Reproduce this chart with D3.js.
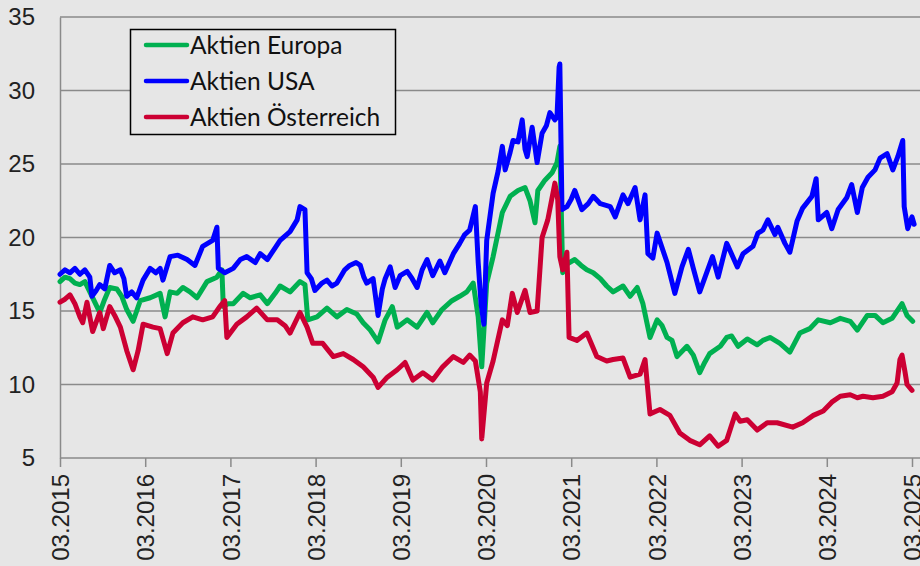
<!DOCTYPE html>
<html><head><meta charset="utf-8">
<script src="https://cdn.jsdelivr.net/npm/d3@7"></script>
<style>html,body{margin:0;padding:0;background:#e6e6e6;}svg{display:block;}</style>
</head><body>
<script>
// months since 03.2015
const tickMonths = [0,12,24,36,48,60,72,84,96,108,120];
const tickLabels = ["03.2015","03.2016","03.2017","03.2018","03.2019","03.2020","03.2021","03.2022","03.2023","03.2024","03.2025"];
const yTicks = [5,10,15,20,25,30,35];
const seriesNames = ["Aktien Europa","Aktien USA","Aktien Österreich"];
const seriesColors = ["#00b050","#0000ff","#cc0033"];

const europaMonths = [0,0.7,1.4,2.1,2.8,3.5,4.2,4.9,5.6,6.3,7.0,8.0,8.7,9.4,10.3,10.8,11.3,12.7,14.1,14.8,15.5,16.5,17.3,18.3,19.3,20.7,22.1,22.8,23.0,23.7,24.4,25.8,26.8,28.2,29.2,30.3,31.0,32.4,33.8,34.5,34.9,36.2,37.6,39.0,40.4,41.8,42.7,43.7,44.8,45.8,46.8,47.5,48.9,50.3,51.7,52.5,53.8,55.2,56.3,57.3,58.2,58.9,59.4,60.1,61.0,62.3,63.4,64.5,65.5,66.2,66.9,67.3,68.3,69.3,70.0,70.4,70.8,71.4,72.5,73.4,74.2,75.1,76.1,77.0,77.9,79.3,80.3,81.3,82.1,83.1,84.1,84.8,85.5,86.2,86.9,88.3,89.2,90.1,90.8,91.5,93.0,93.9,94.6,95.5,96.8,98.2,99.0,100.0,101.4,102.8,104.2,105.6,106.8,108.5,109.9,111.3,112.3,113.7,114.8,115.9,117.2,118.6,119.3,120.1];
const europaValues = [17.0,17.3,17.2,16.9,16.8,17.0,16.3,15.6,14.9,15.8,16.6,16.5,16.0,15.1,14.3,15.0,15.7,15.9,16.2,14.6,16.3,16.2,16.6,16.3,15.9,17.0,17.3,17.8,15.3,15.5,15.5,16.2,15.9,16.1,15.5,16.2,16.7,16.3,17.0,16.8,14.4,14.6,15.2,14.6,15.1,14.8,14.2,13.7,12.9,14.4,15.3,13.9,14.4,13.9,14.9,14.2,15.1,15.7,16.0,16.3,16.9,14.6,11.2,16.9,18.7,21.7,22.8,23.2,23.4,22.5,21.0,23.2,23.9,24.4,25.1,26.2,17.6,18.2,18.5,18.1,17.8,17.6,17.2,16.7,16.3,16.7,16.0,16.6,15.5,13.2,14.4,14.0,13.2,13.0,11.9,12.6,12.0,10.8,11.5,12.1,12.6,13.2,13.3,12.6,13.1,12.7,13.0,13.2,12.8,12.2,13.5,13.8,14.4,14.2,14.5,14.3,13.7,14.7,14.7,14.2,14.5,15.5,14.7,14.3];

const usaMonths = [0,0.7,1.4,2.1,2.8,3.5,4.2,4.5,5.1,5.6,6.3,7.0,7.7,8.5,9.0,9.4,10.1,10.8,11.7,12.7,13.5,14.1,14.5,15.5,16.6,17.9,19.0,20.1,21.5,22.1,22.3,23.2,24.4,25.4,26.3,27.5,28.2,29.2,30.3,31.0,32.4,33.4,33.8,34.5,34.8,35.4,35.9,36.9,37.6,38.3,39.0,40.1,40.8,41.7,42.3,42.8,43.2,44.1,44.8,45.4,45.8,46.5,47.2,47.9,48.9,49.6,50.3,51.0,51.7,52.5,53.5,54.2,55.4,56.3,57.0,57.7,58.5,58.9,59.3,59.7,60.1,61.0,61.7,62.3,62.7,63.4,63.8,64.5,65.1,65.5,65.8,66.5,67.2,67.9,68.5,69.0,69.7,70.0,70.3,70.4,70.7,71.4,72.0,72.5,73.5,74.4,75.1,76.1,77.5,78.2,79.3,80.0,81.0,81.7,82.4,82.8,83.5,84.1,85.5,86.6,87.6,88.5,89.2,90.1,91.9,92.7,93.9,94.1,95.4,96.2,97.6,98.3,99.0,99.7,100.7,101.1,102.1,102.8,103.8,104.6,105.9,106.5,106.8,108.0,108.7,109.6,110.8,111.5,112.3,113.0,113.8,114.8,115.5,116.5,117.3,118.0,118.7,118.9,119.4,120.0,120.3];
const usaValues = [17.5,17.8,17.6,17.9,17.5,17.8,17.3,16.0,16.4,16.8,16.5,18.1,17.6,17.8,17.2,16.0,16.3,15.9,17.1,17.9,17.6,17.9,17.1,18.7,18.8,18.5,18.1,19.4,19.8,20.7,17.9,17.6,17.9,18.5,18.7,18.3,18.9,18.5,19.3,19.8,20.4,21.2,22.1,21.9,17.6,17.2,16.4,16.9,17.1,16.7,16.9,17.8,18.1,18.3,18.1,17.3,16.9,17.2,14.7,16.5,17.2,18.0,16.6,17.4,17.7,17.2,16.6,17.8,18.5,17.4,18.4,17.6,18.9,19.6,20.2,20.5,22.1,18.3,15.5,14.1,19.8,23.0,24.5,26.2,24.6,25.8,26.6,26.5,28.0,26.0,25.5,27.5,25.1,27.1,27.6,28.5,28.0,28.2,31.6,31.8,21.9,22.1,22.6,23.2,21.9,22.3,22.8,22.3,22.1,21.4,22.9,22.3,23.4,21.2,22.9,18.9,18.6,20.3,18.3,16.2,18.0,19.2,17.9,16.3,18.7,17.3,19.6,19.4,18.0,18.9,19.4,20.3,20.5,21.2,20.2,20.7,19.6,19.0,21.1,22.0,22.8,24.0,21.2,21.7,20.6,21.9,22.7,23.6,21.7,23.4,24.1,24.6,25.4,25.7,24.6,25.5,26.6,22.1,20.6,21.4,20.9];

const oesterreichMonths = [0,0.7,1.4,2.1,2.8,3.2,3.8,4.6,5.6,6.1,7.0,7.7,8.5,9.4,10.3,11.0,11.7,12.4,13.1,14.1,15.1,15.9,17.3,18.7,20.1,21.5,22.5,23.2,23.5,24.9,26.3,27.7,29.2,30.6,31.7,32.4,33.8,34.8,35.6,37.0,38.5,39.9,41.3,42.7,44.1,44.8,46.1,47.5,48.6,49.7,51.1,52.5,53.9,55.4,56.8,57.7,58.5,59.2,59.4,60.1,61.0,62.3,63.0,63.7,64.4,65.5,66.2,67.2,67.9,68.7,69.7,70.1,70.4,70.8,71.4,71.7,72.8,74.2,75.6,77.0,77.9,79.3,80.3,81.7,82.4,83.1,84.5,85.9,87.3,88.7,90.1,91.5,92.7,93.9,95.1,95.8,96.8,98.2,99.6,101.0,103.2,104.6,106.1,107.5,108.7,109.9,111.3,112.3,113.1,114.5,115.9,117.2,117.9,118.3,118.6,119.0,119.3,120.0];
const oesterreichValues = [15.6,15.8,16.1,15.5,14.6,14.2,15.6,13.6,14.9,13.8,15.3,14.7,13.9,12.3,11.0,12.3,14.1,14.0,13.9,13.8,12.1,13.5,14.2,14.6,14.4,14.6,15.3,15.7,13.2,14.1,14.6,15.2,14.4,14.4,14.0,13.5,14.9,13.9,12.8,12.8,11.9,12.1,11.7,11.2,10.5,9.8,10.5,11.0,11.5,10.3,10.8,10.3,11.2,11.9,11.5,12.0,11.6,9.5,6.3,10.1,11.6,14.4,14.0,16.2,14.9,16.4,14.9,15.0,20.0,21.2,23.7,22.6,18.7,17.8,19.0,13.2,13.0,13.5,11.9,11.6,11.7,11.8,10.5,10.7,11.7,8.0,8.3,7.9,6.7,6.2,5.9,6.5,5.8,6.2,8.0,7.5,7.6,6.9,7.4,7.4,7.1,7.4,7.9,8.2,8.8,9.2,9.3,9.1,9.2,9.1,9.2,9.5,10.1,11.7,12.0,10.9,10.0,9.6];

const W = 920, H = 566;
const m = {left:60, top:17, bottom:458, right:920};
const svg = d3.select("body").append("svg").attr("width",W).attr("height",H);
svg.append("rect").attr("width",W).attr("height",H).attr("fill","#e6e6e6");

const x = d3.scaleLinear().domain([0,120]).range([60,912]);
const y = d3.scaleLinear().domain([5,35]).range([m.bottom,m.top]);

// gridlines
svg.append("g").selectAll("line").data(yTicks).join("line")
  .attr("x1",m.left).attr("x2",m.right)
  .attr("y1",d=>y(d)).attr("y2",d=>y(d))
  .attr("stroke","#8a8a8a").attr("stroke-width",1.5);

// y axis labels
const yAxis = d3.axisLeft(y).tickValues(yTicks).tickSize(0).tickPadding(25).tickFormat(d3.format("d"));
const gy = svg.append("g").attr("transform",`translate(${m.left},0)`).call(yAxis);
gy.select(".domain").attr("stroke","#8a8a8a").attr("stroke-width",1.5);
gy.selectAll("text").attr("font-family","Liberation Sans, Arial, sans-serif").attr("font-size",24).attr("fill","#222");

// x axis
const xAxis = d3.axisBottom(x).tickValues(tickMonths).tickSize(9).tickPadding(0).tickFormat((d,i)=>tickLabels[i]);
const gx = svg.append("g").attr("transform",`translate(0,${m.bottom})`).call(xAxis);
gx.select(".domain").remove();
gx.selectAll(".tick line").attr("stroke","#8a8a8a").attr("stroke-width",1.5);
gx.selectAll("text").attr("font-family","Liberation Sans, Arial, sans-serif").attr("font-size",24).attr("fill","#222")
  .attr("text-anchor","end").attr("transform","translate(0,16) rotate(-90)").attr("x",0).attr("y",0).attr("dy","0.36em");

const seriesData = [
  europaMonths.map((mm,i)=>[mm,europaValues[i]]),
  usaMonths.map((mm,i)=>[mm,usaValues[i]]),
  oesterreichMonths.map((mm,i)=>[mm,oesterreichValues[i]])
];
const line = d3.line().x(d=>x(d[0])).y(d=>y(d[1]));
svg.append("g").selectAll("path").data(seriesData).join("path")
  .attr("d",line).attr("fill","none")
  .attr("stroke",(d,i)=>seriesColors[i]).attr("stroke-width",5)
  .attr("stroke-linejoin","round").attr("stroke-linecap","round");

// legend
const lg = svg.append("g");
lg.append("rect").attr("x",130.5).attr("y",29.5).attr("width",265).attr("height",105)
  .attr("fill","#e6e6e6").attr("stroke","#000").attr("stroke-width",1.5);
seriesNames.forEach((n,i)=>{
  const yy = 45 + i*36;
  lg.append("line").attr("x1",146).attr("x2",187).attr("y1",yy).attr("y2",yy)
    .attr("stroke",seriesColors[i]).attr("stroke-width",4.5).attr("stroke-linecap","round");
  lg.append("text").attr("x",190).attr("y",yy).attr("dy","0.36em")
    .attr("font-family","Lato, sans-serif").attr("font-size",24.5).attr("fill","#111").text(n);
});
</script>
</body></html>
